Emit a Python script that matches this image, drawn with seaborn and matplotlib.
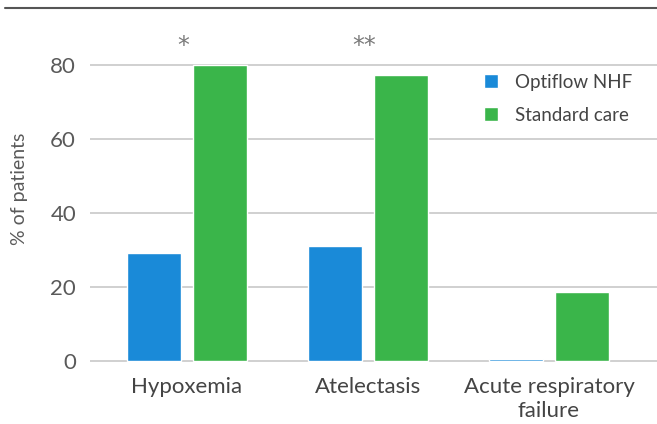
import pandas as pd
import numpy as np
import seaborn as sns
import matplotlib.pyplot as plt
from matplotlib.lines import Line2D

categories = ['Hypoxemia', 'Atelectasis', 'Acute respiratory\nfailure']
groups = ['Optiflow NHF', 'Standard care']
optiflow = [29.2, 31.1, 0.5]
standard = [80.0, 77.3, 18.6]
stars = ['*', '**', '']
yticks = [0, 20, 40, 60, 80]

df = pd.DataFrame({
    'category': categories * 2,
    'group': [groups[0]] * 3 + [groups[1]] * 3,
    'value': optiflow + standard,
})

sns.set_style('white')
plt.rcParams['font.family'] = ['Lato', 'DejaVu Sans']
grey = '#5a5a5a'

fig = plt.figure(figsize=(6.57, 4.24), dpi=100)
ax = fig.add_axes([90 / 657, 1 - 370 / 424, 567 / 657, 362 / 424])

sns.barplot(data=df, x='category', y='value', hue='group',
            palette=['#1a8ad8', '#3ab54a'], width=0.728, gap=0.18,
            saturation=1, ax=ax)

ax.set_xlim(-0.536, 2.597)
ax.set_ylim(-2.4, 95.4)
ax.set_yticks(yticks)
ax.grid(axis='y', color='#c8c8c8', linewidth=1.2)
ax.set_axisbelow(True)
for s in ax.spines.values():
    s.set_visible(False)
ax.tick_params(axis='y', length=0, pad=10, labelsize=16, labelcolor=grey)
ax.tick_params(axis='x', length=0, pad=5, labelsize=16, labelcolor='#444444')
for lbl in ax.get_xticklabels():
    lbl.set_linespacing(1.25)
ax.set_xlabel('')
ax.set_ylabel('% of patients', fontsize=14, color=grey, labelpad=16)

# significance marks
for i, s in enumerate(stars):
    if s:
        ax.text(i - 0.02, 85, s, ha='center', va='center', fontsize=17,
                color='#7a7a7a', family='DejaVu Sans')

leg = ax.legend(loc='upper left', bbox_to_anchor=(0.665, 0.865), frameon=False,
                fontsize=13.5, handlelength=0.75, handleheight=0.75,
                handletextpad=0.9, labelspacing=0.85)
for t in leg.get_texts():
    t.set_color('#444444')

fig.add_artist(Line2D([5 / 657, 1], [1 - 8 / 424, 1 - 8 / 424],
                      color='#555555', linewidth=1.5))

fig.savefig('out.png', dpi=100)
